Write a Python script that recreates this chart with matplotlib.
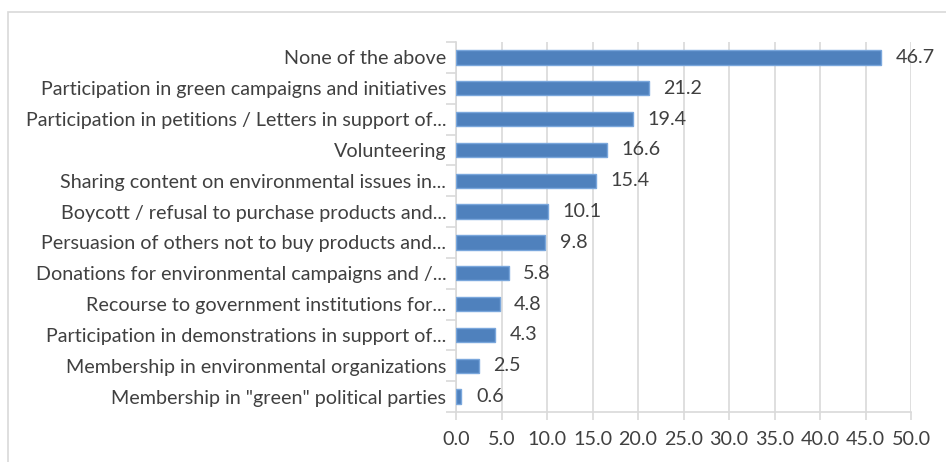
import matplotlib
matplotlib.use("Agg")
import matplotlib.pyplot as plt
from matplotlib.patches import Rectangle
import numpy as np

labels = [
    "None of the above",
    "Participation in green campaigns and initiatives",
    "Participation in petitions / Letters in support of...",
    "Volunteering",
    "Sharing content on environmental issues in...",
    "Boycott / refusal to purchase products and...",
    "Persuasion of others not to buy products and...",
    "Donations for environmental campaigns and /...",
    "Recourse to government institutions for...",
    "Participation in demonstrations in support of...",
    "Membership in environmental organizations",
    "Membership in \"green\" political parties",
]
values = [46.7, 21.2, 19.4, 16.6, 15.4, 10.1, 9.8, 5.8, 4.8, 4.3, 2.5, 0.6]
xticks = [0, 5, 10, 15, 20, 25, 30, 35, 40, 45, 50]

plt.rcParams["font.family"] = ["Lato", "DejaVu Sans"]
text_col = "#404040"
grid_col = "#d9d9d9"
fs = 14.2

fig = plt.figure(figsize=(9.46, 4.62), dpi=100)
ax = fig.add_axes([456 / 946, 1 - 412 / 462, (911 - 456) / 946, (412 - 42) / 462])

# outer chart border
fig.patches.append(Rectangle((8, -10), 960, 462 - 12 + 10, transform=None,
                             fill=False, edgecolor=grid_col, linewidth=1.2))

y = np.arange(len(values))
ax.barh(y, values, height=0.47, color="#4f81bd", edgecolor="#7aa7dc",
        linewidth=1.0, zorder=3)
for yi, v in zip(y, values):
    ax.text(v + 1.6, yi, "%.1f" % v, va="center", ha="left",
            fontsize=fs, color=text_col)

ax.set_ylim(len(values) - 0.5, -0.5)
ax.set_xlim(0, 50)
ax.set_xticks(xticks)
ax.set_xticklabels(["%.1f" % t for t in xticks])
ax.set_yticks(y)
ax.set_yticklabels(labels)
ax.set_yticks(np.arange(len(values) + 1) - 0.5, minor=True)
ax.tick_params(axis="y", which="major", length=0, pad=7, labelsize=fs,
               labelcolor=text_col)
ax.tick_params(axis="y", which="minor", length=7, color=grid_col, width=1.2)
ax.tick_params(axis="x", length=6, color=grid_col, width=1.2, pad=8,
               labelsize=fs, labelcolor=text_col)

ax.grid(axis="x", color=grid_col, linewidth=1.2, zorder=0)
for s in ["top", "right"]:
    ax.spines[s].set_visible(False)
for s in ["left", "bottom"]:
    ax.spines[s].set_color(grid_col)
    ax.spines[s].set_linewidth(1.2)

fig.savefig("out.png", dpi=100)
